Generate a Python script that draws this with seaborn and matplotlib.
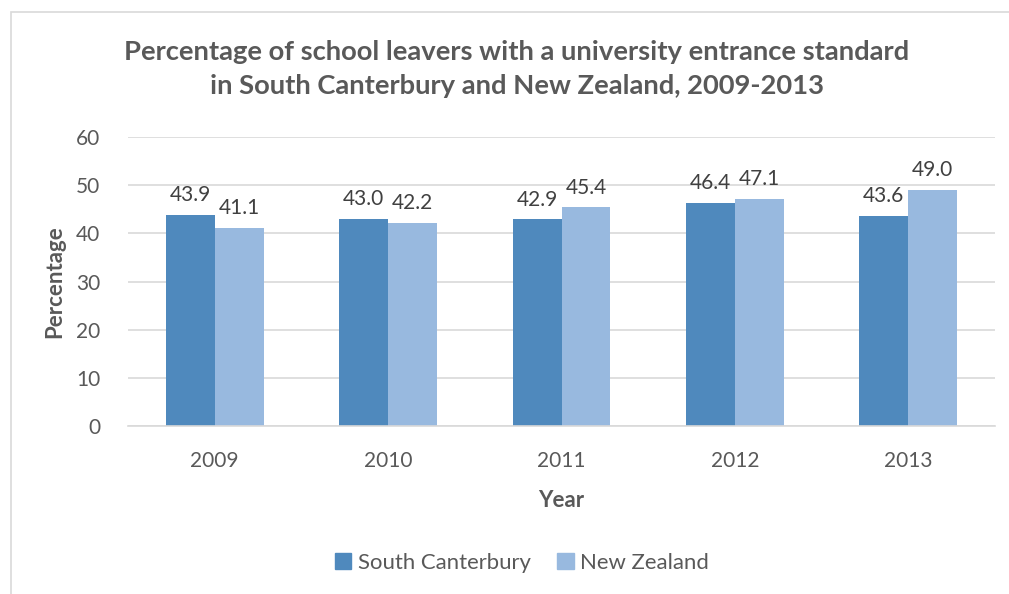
import matplotlib
matplotlib.use("Agg")
import matplotlib.pyplot as plt
import seaborn as sns
import pandas as pd
from matplotlib.patches import Rectangle

years = ["2009", "2010", "2011", "2012", "2013"]
south_canterbury = [43.9, 43.0, 42.9, 46.4, 43.6]
new_zealand = [41.1, 42.2, 45.4, 47.1, 49.0]
series_names = ["South Canterbury", "New Zealand"]
y_ticks = [0, 10, 20, 30, 40, 50, 60]

df = pd.DataFrame({
    "Year": years * 2,
    "Percentage": south_canterbury + new_zealand,
    "Series": [series_names[0]] * len(years) + [series_names[1]] * len(years),
})

sns.set_theme(style="white")
plt.rcParams["font.family"] = ["Lato", "DejaVu Sans"]

text_color = "#595959"
palette = {"South Canterbury": "#4f89bd", "New Zealand": "#98b9df"}

fig = plt.figure(figsize=(10.09, 5.94), dpi=100)
ax = fig.add_axes([128 / 1009, 1 - 426 / 594, (995 - 128) / 1009, (426 - 137) / 594])

sns.barplot(data=df, x="Year", y="Percentage", hue="Series", order=years,
            hue_order=series_names, palette=palette, width=0.565,
            saturation=1, ax=ax, legend=False, linewidth=0)

ax.set_ylim(0, 60)
ax.set_yticks(y_ticks)
ax.yaxis.grid(True, color="#d9d9d9", linewidth=1.2)
ax.set_axisbelow(True)
for side in ["top", "right", "left"]:
    ax.spines[side].set_visible(False)
ax.spines["bottom"].set_color("#d9d9d9")
ax.spines["bottom"].set_linewidth(1.2)
ax.tick_params(axis="both", length=0, labelsize=15, colors=text_color)
ax.tick_params(axis="y", pad=20)
ax.tick_params(axis="x", pad=18)

ax.set_xlabel("Year", fontsize=16, fontweight="bold", color=text_color, labelpad=14)
ax.set_ylabel("Percentage", fontsize=16, fontweight="bold", color=text_color, labelpad=8)

for container in ax.containers:
    ax.bar_label(container, fmt="%.1f", padding=7, fontsize=15, color="#404040")

fig.text(517 / 1009, 1 - 69 / 594, "Percentage of school leavers with a university entrance standard\n"
         "in South Canterbury and New Zealand, 2009-2013",
         ha="center", va="center", fontsize=19.7, fontweight="bold", color=text_color,
         linespacing=1.55)

# Legend along the bottom
handles = [Rectangle((0, 0), 1, 1, color=palette[s]) for s in series_names]
fig.legend(handles, series_names, loc="center", bbox_to_anchor=(522 / 1009, 1 - 563 / 594),
           ncol=2, frameon=False, fontsize=15.9, handlelength=0.75, handleheight=0.75,
           handletextpad=0.3, columnspacing=1.2, labelcolor=text_color)

# Light chart-area border
fig.add_artist(Rectangle((11 / 1009, -0.05), 1.2, 1 - 12 / 594 + 0.05,
                         transform=fig.transFigure, fill=False,
                         edgecolor="#d9d9d9", linewidth=1.2))

fig.savefig("out.png", dpi=100)
